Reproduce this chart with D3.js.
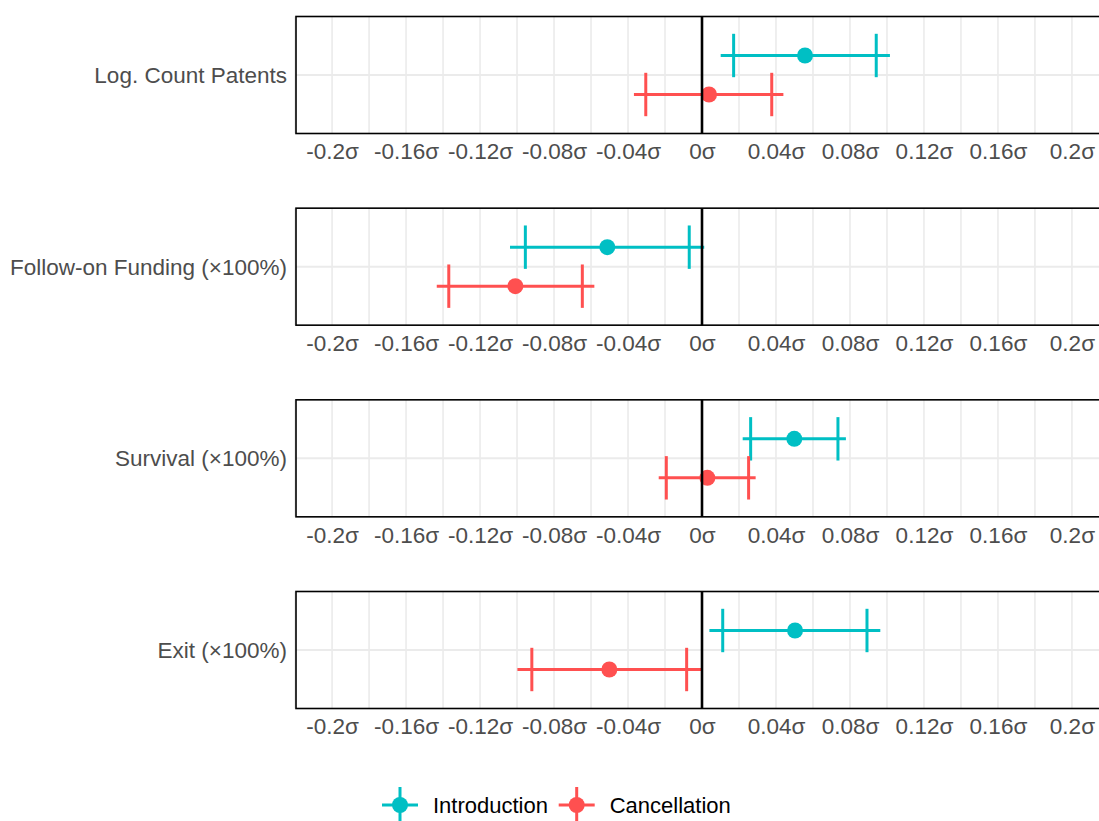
<!DOCTYPE html>
<html>
<head>
<meta charset="utf-8">
<script src="https://cdn.jsdelivr.net/npm/d3@7"></script>
<style>
  body { margin: 0; background: #fff; }
  text { font-family: "Liberation Sans", Arial, sans-serif; }
</style>
</head>
<body>
<div id="chart"></div>
<script>
// outcomes (one panel each) and the two groups
const outcomes = ["Log. Count Patents", "Follow-on Funding (\u00d7100%)", "Survival (\u00d7100%)", "Exit (\u00d7100%)"];
const groups = ["Introduction", "Cancellation"];
const groupColors = ["#00bfc4", "#ff5050"];

// point estimates, 95% interval (line) and 90% interval (ticks), in sd units
const introEst  = [0.0557, -0.0512, 0.0499, 0.0503];
const introLo95 = [0.0101, -0.1038, 0.0220, 0.0040];
const introHi95 = [0.1016,  0.0012, 0.0778, 0.0964];
const introLo90 = [0.0171, -0.0955, 0.0263, 0.0112];
const introHi90 = [0.0942, -0.0069, 0.0735, 0.0892];

const cancelEst  = [0.0038, -0.1009, 0.0029, -0.0501];
const cancelLo95 = [-0.0368, -0.1434, -0.0234, -0.0998];
const cancelHi95 = [0.0440, -0.0582, 0.0290, -0.0005];
const cancelLo90 = [-0.0304, -0.1369, -0.0193, -0.0920];
const cancelHi90 = [0.0377, -0.0647, 0.0252, -0.0083];

const xTicks = [-0.2, -0.16, -0.12, -0.08, -0.04, 0, 0.04, 0.08, 0.12, 0.16, 0.2];
const xMinor = d3.range(-0.22, 0.2201, 0.02);

const width = 1099, height = 821;
const panelLeft = 296, panelRight = 1108;
const panelHalf = 58.5;

// long rows for drawing
const rows = [];
outcomes.forEach((o, i) => {
  rows.push({outcome: o, group: groups[0], est: introEst[i], lo95: introLo95[i], hi95: introHi95[i], lo90: introLo90[i], hi90: introHi90[i]});
  rows.push({outcome: o, group: groups[1], est: cancelEst[i], lo95: cancelLo95[i], hi95: cancelHi95[i], lo90: cancelLo90[i], hi90: cancelHi90[i]});
});

const svg = d3.select('#chart').append('svg')
  .attr('width', width)
  .attr('height', height);

const x = d3.scaleLinear().domain([-0.2195, 0.2195]).range([panelLeft, panelRight]);
const yPanel = d3.scalePoint().domain(outcomes).range([75, 650]);
const yDodge = d3.scalePoint().domain(groups).range([-19.5, 19.5]);
const color = d3.scaleOrdinal().domain(groups).range(groupColors);

// plain hyphen for the minus, like the original
const fmt = v => (v === 0 ? '0' : String(+v.toFixed(2))) + '\u03c3';

outcomes.forEach(o => {
  const cy = yPanel(o);
  const top = cy - panelHalf, bottom = cy + panelHalf;
  const g = svg.append('g');

  // grid
  g.selectAll('.minor').data(xMinor).join('line')
    .attr('x1', d => x(d)).attr('x2', d => x(d))
    .attr('y1', top).attr('y2', bottom)
    .attr('stroke', '#ebebeb').attr('stroke-width', 1.6);
  g.append('line')
    .attr('x1', panelLeft).attr('x2', panelRight)
    .attr('y1', cy).attr('y2', cy)
    .attr('stroke', '#ebebeb').attr('stroke-width', 2);

  const data = rows.filter(r => r.outcome === o);

  // 95% lines
  g.selectAll('.ci95').data(data).join('line')
    .attr('x1', d => x(d.lo95)).attr('x2', d => x(d.hi95))
    .attr('y1', d => cy + yDodge(d.group)).attr('y2', d => cy + yDodge(d.group))
    .attr('stroke', d => color(d.group)).attr('stroke-width', 3);

  // 90% ticks
  data.forEach(d => {
    [d.lo90, d.hi90].forEach(v => {
      g.append('line')
        .attr('x1', x(v)).attr('x2', x(v))
        .attr('y1', cy + yDodge(d.group) - 21.7).attr('y2', cy + yDodge(d.group) + 21.7)
        .attr('stroke', color(d.group)).attr('stroke-width', 3);
    });
  });

  g.selectAll('.pt').data(data).join('circle')
    .attr('cx', d => x(d.est)).attr('cy', d => cy + yDodge(d.group))
    .attr('r', 8).attr('fill', d => color(d.group));

  // zero line
  g.append('line')
    .attr('x1', x(0)).attr('x2', x(0))
    .attr('y1', top).attr('y2', bottom)
    .attr('stroke', '#000').attr('stroke-width', 2.6);

  // panel border
  g.append('rect')
    .attr('x', panelLeft).attr('y', top)
    .attr('width', panelRight - panelLeft).attr('height', bottom - top)
    .attr('fill', 'none').attr('stroke', '#000').attr('stroke-width', 1.6);

  // axis labels (no tick marks)
  const ax = g.append('g').attr('transform', `translate(0,${bottom})`)
    .call(d3.axisBottom(x).tickValues(xTicks).tickFormat(fmt).tickSize(0).tickPadding(10));
  ax.select('.domain').remove();
  ax.selectAll('text')
    .attr('font-family', '"Liberation Sans", Arial, sans-serif')
    .attr('font-size', 22.5).attr('fill', '#4d4d4d');

  g.append('text')
    .attr('x', 287).attr('y', cy)
    .attr('dy', '0.35em')
    .attr('text-anchor', 'end')
    .attr('font-size', 22.5).attr('fill', '#4d4d4d')
    .text(o);
});

// legend
const legend = svg.append('g').attr('transform', 'translate(0,805)');
const legendX = d3.scaleOrdinal().domain(groups).range([400, 576.7]);
groups.forEach(gName => {
  const lx = legendX(gName);
  const lg = legend.append('g');
  lg.append('line').attr('x1', lx - 18).attr('x2', lx + 18).attr('y1', 0).attr('y2', 0)
    .attr('stroke', color(gName)).attr('stroke-width', 3);
  lg.append('line').attr('x1', lx).attr('x2', lx).attr('y1', -18).attr('y2', 18)
    .attr('stroke', color(gName)).attr('stroke-width', 3);
  lg.append('circle').attr('cx', lx).attr('cy', 0).attr('r', 8).attr('fill', color(gName));
  lg.append('text').attr('x', lx + 33).attr('y', 0).attr('dy', '0.35em')
    .attr('font-size', 22).attr('fill', '#000').text(gName);
});
</script>
</body>
</html>
